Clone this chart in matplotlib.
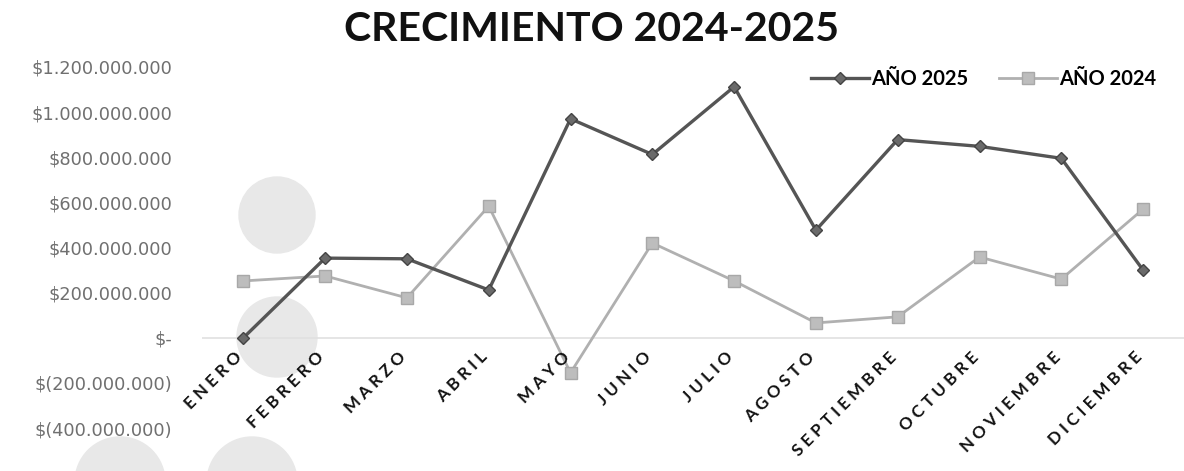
import matplotlib
matplotlib.use("Agg")
import matplotlib.pyplot as plt
from matplotlib.ticker import FuncFormatter, MultipleLocator
from matplotlib.patches import Ellipse

meses = ["ENERO", "FEBRERO", "MARZO", "ABRIL", "MAYO", "JUNIO", "JULIO",
         "AGOSTO", "SEPTIEMBRE", "OCTUBRE", "NOVIEMBRE", "DICIEMBRE"]
anio_2025 = [0, 353e6, 350e6, 212e6, 970e6, 812e6, 1112e6, 477e6,
             878e6, 848e6, 795e6, 300e6]
anio_2024 = [252e6, 274e6, 177e6, 583e6, -155e6, 420e6, 252e6, 66e6,
             93e6, 358e6, 260e6, 570e6]

plt.rcParams['font.family'] = ['Lato', 'DejaVu Sans']

W, H = 1184, 471
fig = plt.figure(figsize=(W / 100, H / 100), dpi=100)
ax = fig.add_axes([0.171, 0.091, 0.829, 0.767])
ax.set_facecolor('none')

# faint grey blobs left by the scan
for cx, cy, r in [(277, 215, 38), (277, 337, 40), (120, 482, 45), (252, 482, 45)]:
    fig.patches.append(Ellipse((cx / W, 1 - cy / H), 2 * r / W, 2 * r / H,
                               transform=fig.transFigure, color='#e8e8e8',
                               zorder=-1))

x = list(range(len(meses)))
ax.axhline(0, color='#e0e0e0', lw=1.2, zorder=1)
ax.plot(x, anio_2025, color='#555555', lw=2.4, marker='D', ms=6,
        mfc='#6a6a6a', mec='#444444', label='AÑO 2025', zorder=3)
ax.plot(x, anio_2024, color='#b0b0b0', lw=2.0, marker='s', ms=8,
        mfc='#bdbdbd', mec='#a8a8a8', label='AÑO 2024', zorder=2)

ax.set_xlim(-0.5, 11.5)
ax.set_ylim(-400e6, 1200e6)
ax.yaxis.set_major_locator(MultipleLocator(200e6))


def pesos(v, i):
    if v == 0:
        return '$-'
    s = '{:,.0f}'.format(abs(v)).replace(',', '.')
    return '$(' + s + ')' if v < 0 else '$' + s


ax.yaxis.set_major_formatter(FuncFormatter(pesos))
ax.tick_params(axis='y', length=0, labelsize=12.8, labelcolor='#707070', pad=21.5)
for t in ax.get_yticklabels():
    t.set_family('DejaVu Sans')
ax.set_xticks([])
for s in ax.spines.values():
    s.set_visible(False)

for i, m in enumerate(meses):
    ax.annotate(' '.join(m), (i, 0), xytext=(1.5, -8), textcoords='offset points',
                rotation=45, ha='right', va='top', fontsize=12.2,
                fontweight='bold', color='#111111')

fig.text(0.5, 0.937, 'CRECIMIENTO 2024-2025', ha='center', va='center',
         fontsize=29.5, fontweight='bold', color='#111111')

ax.legend(loc='upper right', bbox_to_anchor=(0.99, 1.045), ncol=2, frameon=False,
          prop={'weight': 'bold', 'size': 14.5}, handlelength=2.9,
          columnspacing=1.5, handletextpad=0.1)

fig.savefig('out.png', dpi=100)
